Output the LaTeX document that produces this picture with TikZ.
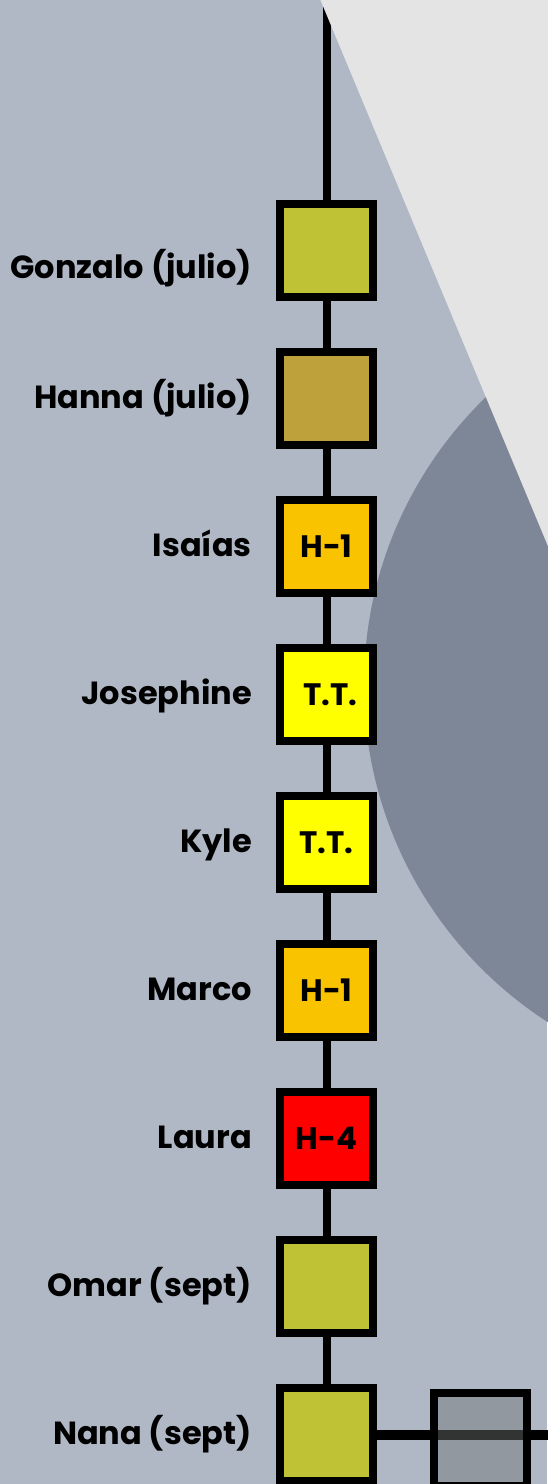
\documentclass[tikz,border=0pt]{standalone}
\usepackage{fontspec}
\setmainfont{Poppins}
\pgfdeclarelayer{back}
\pgfdeclarelayer{lines}
\pgfsetlayers{back,lines,main}
\definecolor{bgblue}{HTML}{B0B7C5}
\definecolor{lightgray}{HTML}{E4E4E4}
\definecolor{circlegray}{HTML}{7E8798}
\definecolor{olive}{HTML}{C0C236}
\definecolor{hannacol}{HTML}{BEA13A}
\definecolor{amber}{HTML}{F9C300}
\definecolor{tyellow}{HTML}{FFFF00}
\definecolor{hred}{HTML}{FF0000}
\definecolor{boxgray}{RGB}{112,115,116}
\tikzset{
  stepbox/.style={draw=black, line width=8pt, rectangle, minimum size=93pt, inner sep=0pt,
    font=\fontsize{31}{36}\selectfont\bfseries},
  namelabel/.style={anchor=base east, inner sep=0pt, font=\fontsize{32}{38}\selectfont\bfseries},
  link/.style={draw=black, line width=8pt},
}
\begin{document}
\begin{tikzpicture}[x=1pt,y=-1pt]
\useasboundingbox (0,0) rectangle (547,1484);
\clip (0,0) rectangle (547,1484);
% boxes
\node[stepbox, fill=olive] (g) at (326.5,250.5) {};
\node[stepbox, fill=hannacol] (h) at (326.5,398.5) {};
\node[stepbox, fill=amber] (i) at (326.5,546.5) {H-1};
\node[stepbox, fill=tyellow] (j) at (326.5,694.5) {\hspace{8pt}T.T.};
\node[stepbox, fill=tyellow] (k) at (326.5,842.5) {T.T.};
\node[stepbox, fill=amber] (m) at (326.5,990.5) {H-1};
\node[stepbox, fill=hred] (l) at (326.5,1138.5) {H-4};
\node[stepbox, fill=olive] (o) at (326.5,1286.5) {};
\node[stepbox, fill=olive] (n) at (326.5,1434.5) {};
\node[stepbox, fill=boxgray, fill opacity=0.455] (x) at (480.5,1439.5) {};
% labels
\node[namelabel] (lg) at (252,278) {Gonzalo (julio)};
\node[namelabel] (lh) at (252,408.5) {Hanna (julio)};
\node[namelabel] (li) at (252,556.5) {Isaías};
\node[namelabel] (lj) at (252,704.5) {Josephine};
\node[namelabel] (lk) at (252,852.5) {Kyle};
\node[namelabel] (lm) at (252,1000.5) {Marco};
\node[namelabel] (ll) at (252,1148.5) {Laura};
\node[namelabel] (lo) at (252,1296.5) {Omar (sept)};
\node[namelabel] (ln) at (252,1444.5) {Nana (sept)};
\coordinate (top) at (326.5,-5);
\coordinate (rightend) at (560,1434.5);
\begin{pgfonlayer}{back}
  \fill[bgblue] (0,0) rectangle (547,1484);
  \fill[circlegray] (765,685) circle[radius=401];
  \draw[link] (top) -- (g.north);
  \fill[lightgray] (320,-1) -- (560,-1) -- (560,575) -- cycle;
\end{pgfonlayer}
\begin{pgfonlayer}{lines}
  \draw[link] (g) -- (h);
  \draw[link] (h) -- (i);
  \draw[link] (i) -- (j);
  \draw[link] (j) -- (k);
  \draw[link] (k) -- (m);
  \draw[link] (m) -- (l);
  \draw[link] (l) -- (o);
  \draw[link] (o) -- (n);
  \draw[link, line width=10pt] (n.east) -- (rightend);
\end{pgfonlayer}
\end{tikzpicture}
\end{document}
